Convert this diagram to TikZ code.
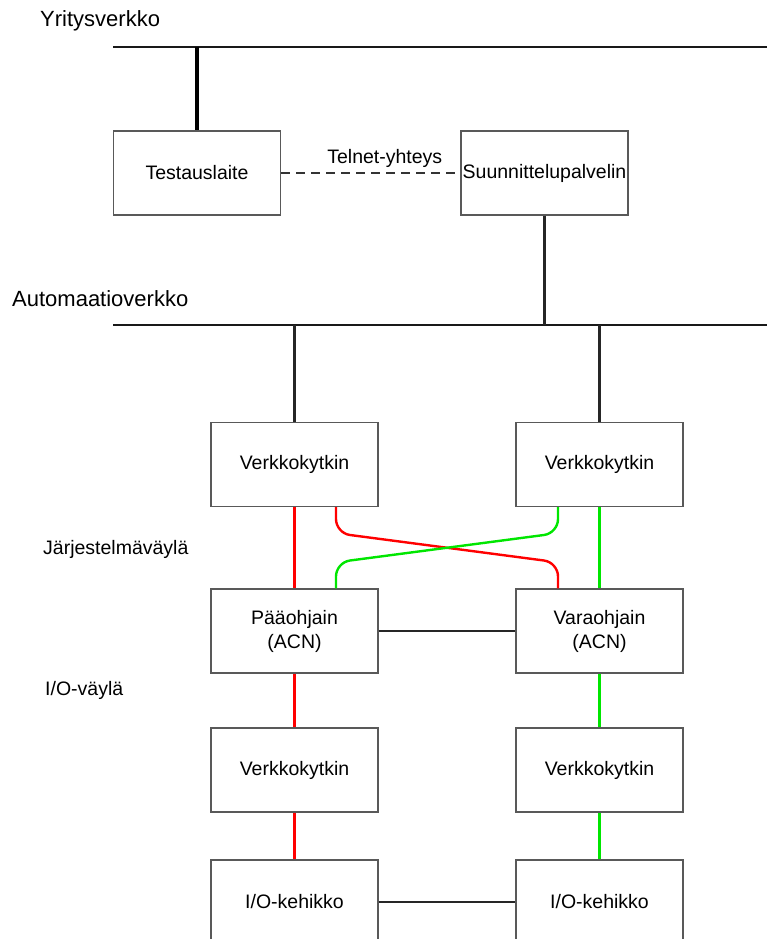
\documentclass[tikz,border=0pt]{standalone}
\usepackage{fontspec}
\setmainfont{Liberation Sans}
\begin{document}
\begin{tikzpicture}[x=1pt,y=-1pt,
  box/.style={draw=black!65,line width=1.3pt,fill=white,minimum width=167pt,minimum height=84pt,inner sep=0pt,align=center,font=\fontsize{19.5}{24}\selectfont},
  lbl/.style={anchor=west,inner sep=0pt,font=\fontsize{22}{24}\selectfont},
  bus/.style={line width=2.4pt,black!90},
  blk/.style={line width=2.4pt,black!85},
  red/.style={line width=2.4pt,draw={rgb,255:red,255;green,0;blue,0}},
  grn/.style={line width=2.4pt,draw={rgb,255:red,0;green,230;blue,0}}]
\useasboundingbox (0,0) rectangle (767,939);
\clip (0,0) rectangle (767,939);
% labels
\node[lbl] (ly) at (40,21) {Yritysverkko};
\node[lbl] (la) at (12,299) {Automaatioverkko};
\node[lbl] (lj) at (43,549) {\fontsize{19.5}{22}\selectfont Järjestelmäväylä};
\node[lbl] (li) at (45,690) {\fontsize{19.5}{22}\selectfont I/O-väylä};
% buses
\coordinate (y1) at (113,47);
\coordinate (y2) at (767,47);
\coordinate (a1) at (113,325);
\coordinate (a2) at (767,325);
\draw[bus] (y1) -- (y2);
\draw[bus] (a1) -- (a2);
% boxes
\node[box] (test) at (197,173) {Testauslaite};
\node[box] (suun) at (544.5,173) {Suunnittelupalvelin};
\node[box] (vk1) at (294.5,464.5) {Verkkokytkin};
\node[box] (vk2) at (599.5,464.5) {Verkkokytkin};
\node[box] (pa) at (294.5,631) {Pääohjain\\(ACN)};
\node[box] (va) at (599.5,631) {Varaohjain\\(ACN)};
\node[box] (vk3) at (294.5,770) {Verkkokytkin};
\node[box] (vk4) at (599.5,770) {Verkkokytkin};
\node[box] (io1) at (294.5,902) {I/O-kehikko};
\node[box] (io2) at (599.5,902) {I/O-kehikko};
% connectors
\coordinate (ty) at (197,47);
\draw[line width=3.2pt,black] (ty) -- (test.north);
\draw[line width=2.2pt,black!80,dash pattern=on 9pt off 6pt] (test.east) -- node[above=4pt,xshift=14pt,inner sep=0pt,font=\fontsize{19.5}{22}\selectfont,black] (tl) {Telnet-yhteys} (suun.west);
\coordinate (sa) at (544.5,325);
\draw[blk] (suun.south) -- (sa);
\coordinate (a3) at (294.5,325);
\coordinate (a4) at (599.5,325);
\draw[blk] (a3) -- (vk1.north);
\draw[blk] (a4) -- (vk2.north);
\draw[red] (vk1.south) -- (pa.north);
\draw[grn] (vk2.south) -- (va.north);
\draw[red,rounded corners=14pt] ([xshift=41.5pt]vk1.south) -- ++(0,26) -- ([xshift=-41.5pt,yshift=26pt]va.north) -- ([xshift=-41.5pt]va.north);
\draw[grn,rounded corners=14pt] ([xshift=-41.5pt]vk2.south) -- ++(0,26) -- ([xshift=41.5pt,yshift=26pt]pa.north) -- ([xshift=41.5pt]pa.north);
\draw[blk] (pa.east) -- (va.west);
\draw[red] (pa.south) -- (vk3.north);
\draw[grn] (va.south) -- (vk4.north);
\draw[red] (vk3.south) -- (io1.north);
\draw[grn] (vk4.south) -- (io2.north);
\draw[blk] (io1.east) -- (io2.west);
\end{tikzpicture}
\end{document}
